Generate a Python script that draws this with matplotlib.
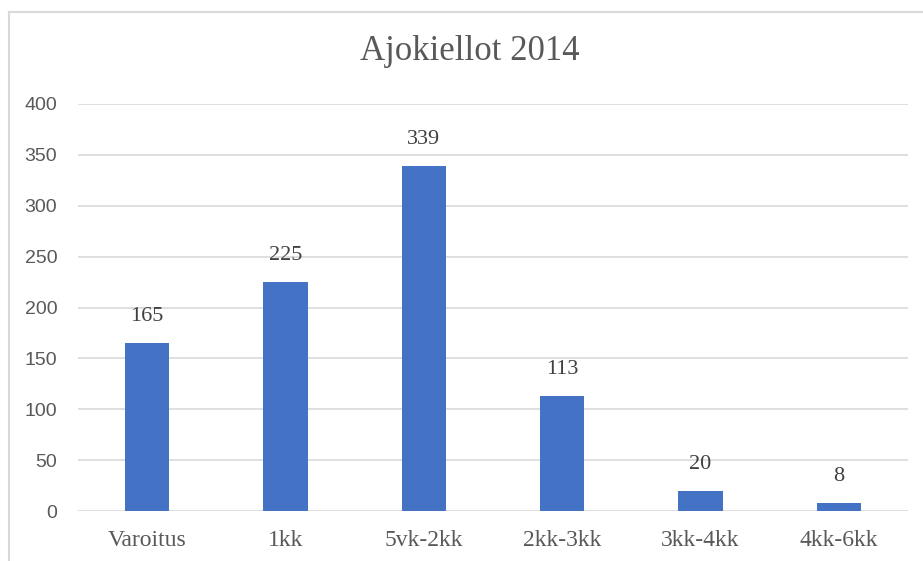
import matplotlib
matplotlib.use("Agg")
import matplotlib.pyplot as plt
from matplotlib.lines import Line2D

categories = ["Varoitus", "1kk", "5vk-2kk", "2kk-3kk", "3kk-4kk", "4kk-6kk"]
values = [165, 225, 339, 113, 20, 8]
yticks = [0, 50, 100, 150, 200, 250, 300, 350, 400]
title = "Ajokiellot 2014"

W, H = 923, 561
fig = plt.figure(figsize=(W / 100, H / 100), dpi=100)
ax = fig.add_axes([78 / W, 1 - 511 / H, 830 / W, 407 / H])

x = list(range(len(categories)))
ax.bar(x, values, width=0.32, color="#4472C4", zorder=3)
ax.set_xlim(-0.5, len(categories) - 0.5)
ax.set_ylim(0, 400)
ax.set_yticks(yticks)
ax.set_xticks(x)
ax.set_xticklabels(categories, family="Liberation Serif", fontsize=17, color="#595959")
for lbl in ax.get_yticklabels():
    lbl.set_family("Liberation Sans")
    lbl.set_fontsize(14)
    lbl.set_color("#595959")
ax.tick_params(axis="y", length=0, pad=15)
ax.tick_params(axis="x", length=0, pad=14)
ax.grid(axis="y", color="#D9D9D9", linewidth=1.2, zorder=0)
for s in ax.spines.values():
    s.set_visible(False)

for xi, v in zip(x, values):
    ax.annotate(str(v), (xi, v), xytext=(0, 12), textcoords="offset points",
                ha="center", va="bottom", family="Liberation Serif",
                fontsize=16, color="#404040")

fig.text(470 / W, 1 - 52 / H, title, ha="center", va="center",
         family="Liberation Serif", fontsize=25, color="#595959")

# outer chart border (left and top visible)
fig.add_artist(Line2D([8.5 / W, 8.5 / W], [1 - 11.5 / H, 0], transform=fig.transFigure,
                      color="#D9D9D9", linewidth=1.5))
fig.add_artist(Line2D([8.5 / W, 1], [1 - 11.5 / H, 1 - 11.5 / H], transform=fig.transFigure,
                      color="#D9D9D9", linewidth=1.5))

fig.savefig("out.png", dpi=100)
